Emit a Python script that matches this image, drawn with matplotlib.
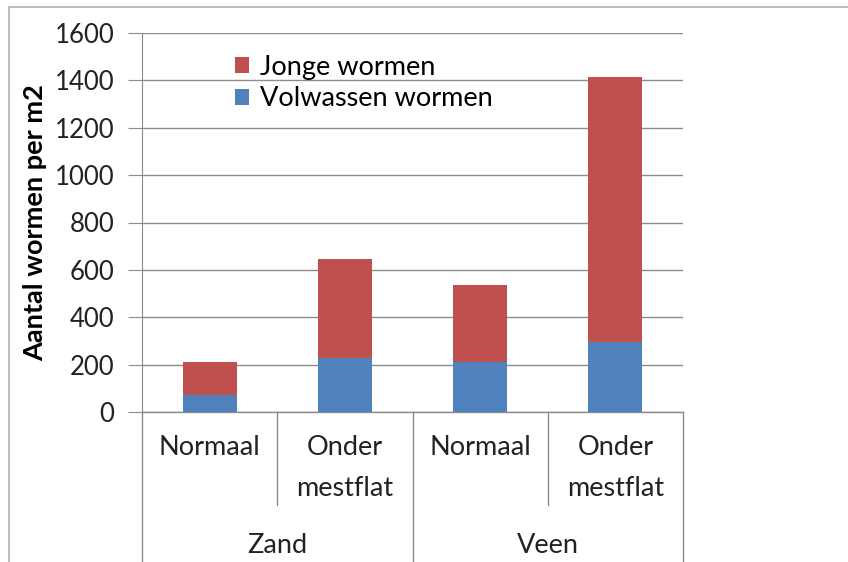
import matplotlib.pyplot as plt
from matplotlib.patches import Rectangle
from matplotlib.transforms import blended_transform_factory

# waarden
grondsoort = ['Zand', 'Veen']
situatie = ['Normaal', 'Onder\nmestflat', 'Normaal', 'Onder\nmestflat']
volwassen = [70, 228, 212, 297]
jonge = [143, 420, 326, 1116]

rood = '#C0504D'
blauw = '#4F81BD'
grijs = '#8C8C8C'

plt.rcParams['font.family'] = ['Lato', 'DejaVu Sans']
fs = 19.5

fig = plt.figure(figsize=(8.48, 5.62), dpi=100)
ax = fig.add_axes([142 / 848, 1 - 412 / 562, 541 / 848, 379 / 562])

x = list(range(len(volwassen)))
ax.bar(x, volwassen, width=0.4, color=blauw, label='Volwassen wormen', zorder=3)
ax.bar(x, jonge, width=0.4, bottom=volwassen, color=rood, label='Jonge wormen', zorder=3)

ax.set_xlim(-0.5, 3.5)
ax.set_ylim(0, 1600)
ax.set_yticks(range(0, 1601, 200))
ax.yaxis.grid(True, color=grijs, linewidth=1)
ax.set_axisbelow(True)
for s in ['top', 'right', 'bottom']:
    ax.spines[s].set_visible(False)
ax.spines['left'].set_color(grijs)
ax.tick_params(axis='y', length=10, color=grijs, labelsize=18.5, labelcolor='#222222', pad=10)
ax.set_xticks([])
ax.set_ylabel('Aantal wormen per m2', fontsize=fs, fontweight='bold', labelpad=5)

# categorie-as met twee niveaus
tr = blended_transform_factory(ax.transData, ax.transAxes)
ax.plot([-0.5, 3.5], [0, 0], color=grijs, lw=1, transform=tr, clip_on=False)
for xs in [-0.5, 1.5, 3.5]:
    ax.plot([xs, xs], [0, -0.4], color=grijs, lw=1, transform=tr, clip_on=False)
for xs in [0.5, 2.5]:
    ax.plot([xs, xs], [0, -0.245], color=grijs, lw=1, transform=tr, clip_on=False)
for i, lab in enumerate(situatie):
    ax.text(i, -0.06, lab, transform=tr, ha='center', va='top', fontsize=fs,
            color='#222222', linespacing=1.82)
for i, lab in enumerate(grondsoort):
    ax.text(2 * i + 0.5, -0.352, lab, transform=tr, ha='center', va='center',
            fontsize=fs, color='#222222')

h, l = ax.get_legend_handles_labels()
ax.legend(h[::-1], l[::-1], loc='upper left', bbox_to_anchor=(221 / 848, 1 - 41 / 562),
          bbox_transform=fig.transFigure, frameon=False, fontsize=fs,
          handlelength=0.55, handleheight=0.55, handletextpad=0.4, labelspacing=0.25,
          borderpad=0)

# rand rond de grafiek
fig.patches.append(Rectangle((9 / 848, -0.1), 1.2, 1 - 7 / 562 + 0.1, transform=fig.transFigure,
                             fill=False, edgecolor='#BFBFBF', lw=1.5))

fig.savefig('out.png', dpi=100)
